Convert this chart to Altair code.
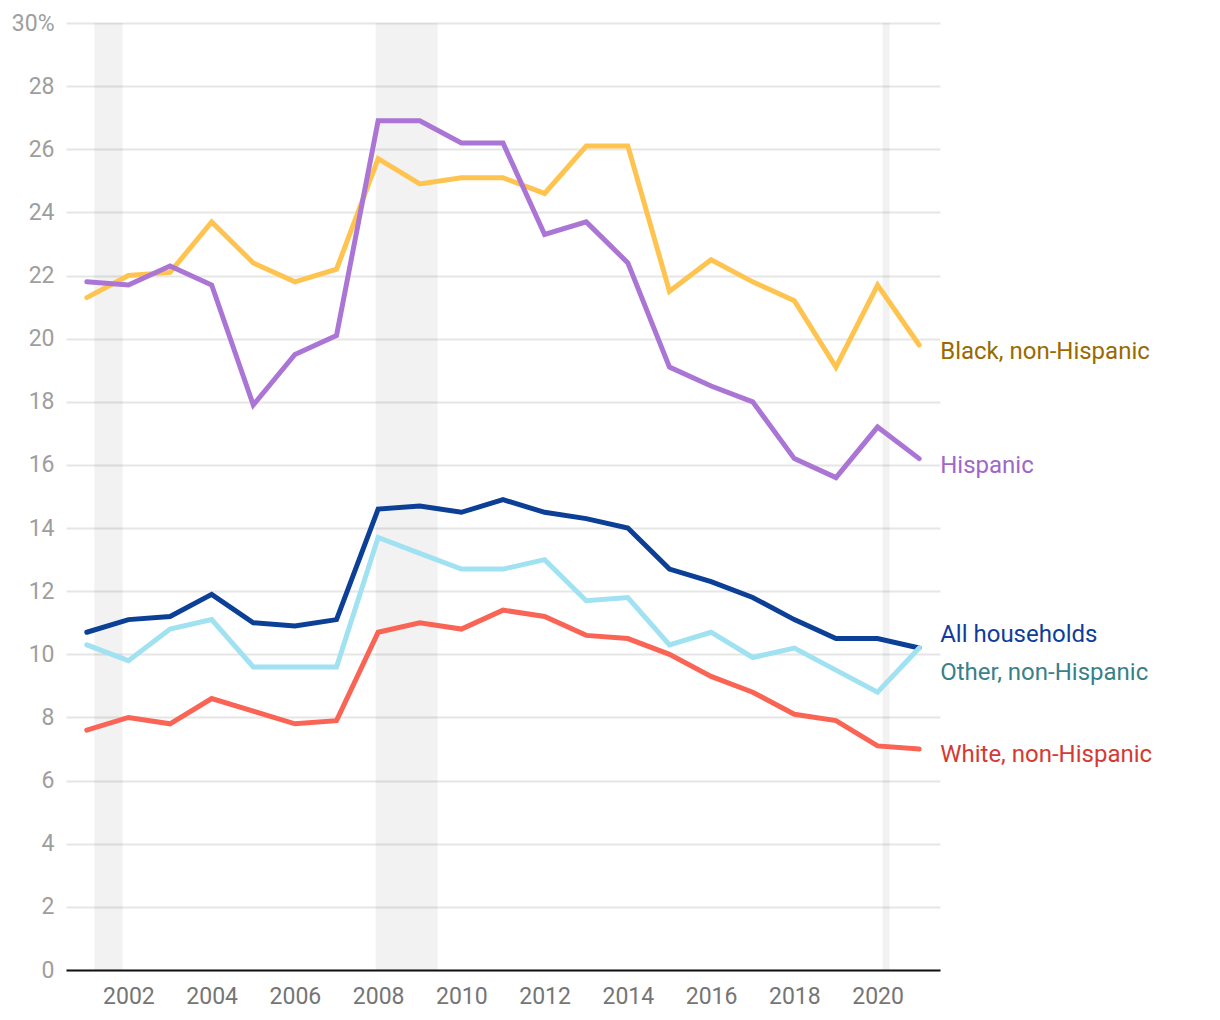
import altair as alt
import pandas as pd

years = list(range(2001, 2022))

all_households = [10.7, 11.1, 11.2, 11.9, 11.0, 10.9, 11.1, 14.6, 14.7, 14.5, 14.9,
                  14.5, 14.3, 14.0, 12.7, 12.3, 11.8, 11.1, 10.5, 10.5, 10.2]
black = [21.3, 22.0, 22.1, 23.7, 22.4, 21.8, 22.2, 25.7, 24.9, 25.1, 25.1,
         24.6, 26.1, 26.1, 21.5, 22.5, 21.8, 21.2, 19.1, 21.7, 19.8]
hispanic = [21.8, 21.7, 22.3, 21.7, 17.9, 19.5, 20.1, 26.9, 26.9, 26.2, 26.2,
            23.3, 23.7, 22.4, 19.1, 18.5, 18.0, 16.2, 15.6, 17.2, 16.2]
other = [10.3, 9.8, 10.8, 11.1, 9.6, 9.6, 9.6, 13.7, 13.2, 12.7, 12.7,
         13.0, 11.7, 11.8, 10.3, 10.7, 9.9, 10.2, 9.5, 8.8, 10.2]
white = [7.6, 8.0, 7.8, 8.6, 8.2, 7.8, 7.9, 10.7, 11.0, 10.8, 11.4,
         11.2, 10.6, 10.5, 10.0, 9.3, 8.8, 8.1, 7.9, 7.1, 7.0]

series_names = ["Black, non-Hispanic", "Hispanic", "All households",
                "Other, non-Hispanic", "White, non-Hispanic"]
series_values = [black, hispanic, all_households, other, white]
line_colors = ["#FFC44F", "#AA75D4", "#0C3F96", "#A0E1F2", "#FA6455"]
label_colors = ["#9A6A00", "#A066C8", "#0F3D99", "#3A7F8A", "#D43A33"]
label_y = [19.58, 15.98, 10.6, 9.42, 6.82]

recession_start = [2001.18, 2007.94, 2020.12]
recession_end = [2001.86, 2009.43, 2020.29]

x_ticks = list(range(2002, 2021, 2))
y_ticks = list(range(0, 31, 2))

rows = []
for name, vals in zip(series_names, series_values):
    for yr, v in zip(years, vals):
        rows.append({"year": yr, "value": v, "series": name})
lines_df = pd.DataFrame(rows)

labels_df = pd.DataFrame({"series": series_names, "year": [years[-1]] * 5,
                          "value": label_y})
rec_df = pd.DataFrame({"start": recession_start, "end": recession_end,
                       "lo": [0] * 3, "hi": [30] * 3})

FONT = "Roboto"

xscale = alt.Scale(domain=[2000.5, 2021.5], nice=False, zero=False)
yscale = alt.Scale(domain=[0, 30], nice=False)

xaxis = alt.Axis(values=x_ticks, format="d", grid=False, ticks=False,
                 domainColor="#111111", domainWidth=2, labelColor="#757575",
                 labelFontSize=23, labelFont=FONT, labelPadding=15, title=None)
yaxis = alt.Axis(values=y_ticks, grid=True, gridColor="#e6e6e6", gridWidth=2,
                 domain=False, ticks=False, labelColor="#9e9e9e",
                 labelFontSize=23, labelFont=FONT, labelPadding=12, title=None,
                 labelExpr="datum.value == 30 ? '30%' : datum.label")

rects = alt.Chart(rec_df).mark_rect(color="#000000", opacity=0.05).encode(
    x=alt.X("start:Q", scale=xscale, axis=xaxis),
    x2="end:Q",
    y=alt.Y("lo:Q", scale=yscale, axis=yaxis),
    y2="hi:Q",
)

lines = alt.Chart(lines_df).mark_line(strokeWidth=5, strokeCap="round",
                                      strokeJoin="miter").encode(
    x=alt.X("year:Q", scale=xscale, axis=xaxis),
    y=alt.Y("value:Q", scale=yscale, axis=yaxis),
    color=alt.Color("series:N", scale=alt.Scale(domain=series_names, range=line_colors),
                    legend=None),
    detail="series:N",
)

texts = alt.Chart(labels_df).mark_text(align="left", baseline="middle", dx=21,
                                       fontSize=24, font=FONT).encode(
    x=alt.X("year:Q", scale=xscale, axis=xaxis),
    y=alt.Y("value:Q", scale=yscale, axis=yaxis),
    text="series:N",
    color=alt.Color("series:N", scale=alt.Scale(domain=series_names, range=label_colors),
                    legend=None),
)

chart = alt.layer(rects, lines, texts).resolve_scale(color="independent").properties(
    width=874, height=947,
    autosize=alt.AutoSizeParams(type="none"),
    padding={"left": 58, "top": 15, "right": 260, "bottom": 40},
).configure(font=FONT).configure_view(strokeOpacity=0, strokeWidth=0)

chart.save("out.html", embed_options={"renderer": "svg", "actions": False})
